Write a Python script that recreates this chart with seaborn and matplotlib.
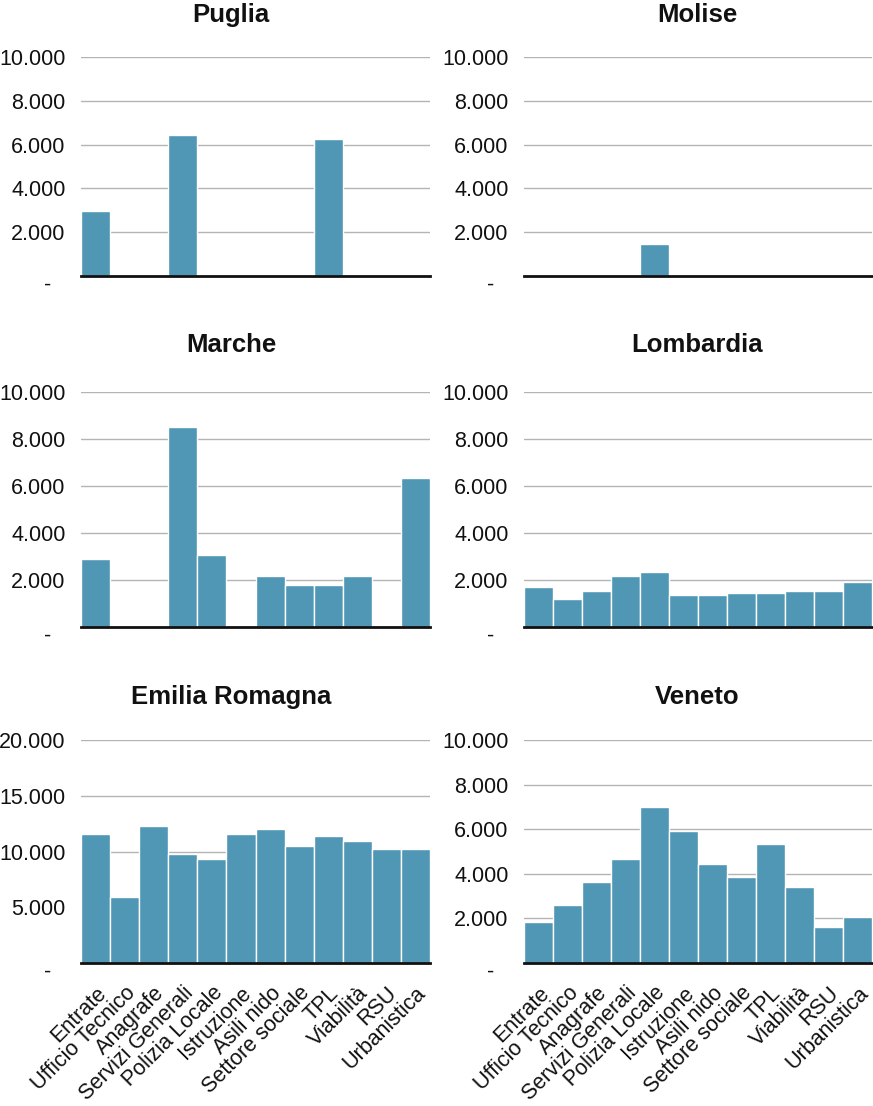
import matplotlib
matplotlib.use("Agg")
import matplotlib.pyplot as plt
import matplotlib.transforms as mtransforms
import seaborn as sns
import pandas as pd

categories = ["Entrate", "Ufficio Tecnico", "Anagrafe", "Servizi Generali",
              "Polizia Locale", "Istruzione", "Asili nido", "Settore sociale",
              "TPL", "Viabilità", "RSU", "Urbanistica"]

puglia = [2950, 0, 0, 6450, 0, 0, 0, 0, 6250, 0, 0, 0]
molise = [0, 0, 0, 0, 1450, 0, 0, 0, 0, 0, 0, 0]
marche = [2900, 0, 0, 8500, 3050, 0, 2150, 1800, 1800, 2150, 0, 6350]
lombardia = [1700, 1200, 1550, 2150, 2350, 1350, 1350, 1450, 1450, 1550, 1550, 1900]
emilia_romagna = [11550, 5900, 12250, 9750, 9300, 11550, 12050, 10450, 11350, 10900, 10250, 10250]
veneto = [1830, 2600, 3650, 4650, 7000, 5900, 4450, 3850, 5350, 3400, 1600, 2050]

titles = ["Puglia", "Molise", "Marche", "Lombardia", "Emilia Romagna", "Veneto"]
series = [puglia, molise, marche, lombardia, emilia_romagna, veneto]
ymax = [10000, 10000, 10000, 10000, 20000, 10000]
ystep = [2000, 2000, 2000, 2000, 5000, 2000]

sns.set_theme(style="white")
plt.rcParams["font.family"] = ["Liberation Sans", "DejaVu Sans"]

W, H = 873, 1106
fig = plt.figure(figsize=(W / 100, H / 100), dpi=100)

cols_x = [(81, 430), (524, 872)]
rows_y = [(57, 276), (392, 627), (740, 963)]
title_x = [231, 697]
title_y = [15, 345, 697]

bar_color = "#4F97B5"

for i, (title, vals) in enumerate(zip(titles, series)):
    r, c = divmod(i, 2)
    x0, x1 = cols_x[c]
    y0, y1 = rows_y[r]
    ax = fig.add_axes([x0 / W, 1 - y1 / H, (x1 - x0) / W, (y1 - y0) / H])
    df = pd.DataFrame({"cat": categories, "val": vals})
    sns.barplot(data=df, x="cat", y="val", order=categories, ax=ax,
                color=bar_color, saturation=1, width=1.0,
                edgecolor="white", linewidth=1, zorder=3)
    ax.set_xlim(-0.5, len(categories) - 0.5)
    ax.set_ylim(0, ymax[i])
    ticks = list(range(0, ymax[i] + 1, ystep[i]))
    ax.set_yticks(ticks)
    ax.set_yticklabels(["-" if t == 0 else f"{t:,}".replace(",", ".") for t in ticks],
                       fontsize=15.5, color="#111111")
    ax.tick_params(axis="y", length=0, pad=11)
    lab0 = ax.get_yticklabels()[0]
    offset = mtransforms.ScaledTranslation(-14 / 100, -7 / 100, fig.dpi_scale_trans)
    lab0.set_transform(lab0.get_transform() + offset)
    for t in ticks[1:]:
        ax.axhline(t, color="#b4b4b4", linewidth=1, zorder=1)
    for s in ["top", "right", "left"]:
        ax.spines[s].set_visible(False)
    ax.spines["bottom"].set_color("#111111")
    ax.spines["bottom"].set_linewidth(2)
    ax.spines["bottom"].set_zorder(5)
    ax.set_xlabel("")
    ax.set_ylabel("")
    ax.grid(False)
    if r == 2:
        ax.set_xticks(range(len(categories)))
        ax.set_xticklabels(categories, rotation=45, ha="right",
                           rotation_mode="anchor", fontsize=15.5, color="#111111")
        ax.tick_params(axis="x", length=0, pad=14)
    else:
        ax.set_xticks([])
    fig.text(title_x[c] / W, 1 - title_y[r] / H, title, ha="center", va="center",
             fontsize=18.5, fontweight="bold", color="#111111")

fig.savefig("out.png", dpi=100)
